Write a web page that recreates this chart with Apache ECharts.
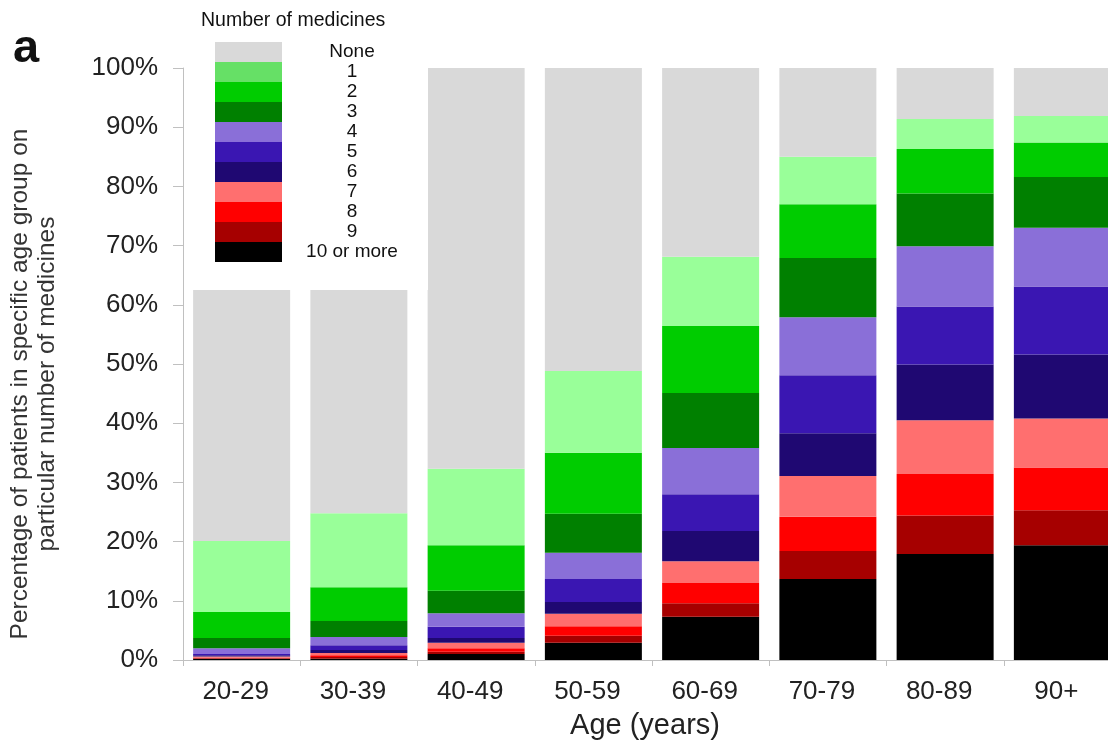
<!DOCTYPE html>
<html>
<head>
<meta charset="utf-8">
<script src="https://cdn.jsdelivr.net/npm/echarts@6/dist/echarts.min.js"></script>
<style>
  html, body { margin: 0; padding: 0; background: #fff; overflow: hidden; }
  #chart { width: 1121px; height: 742px; }
</style>
</head>
<body>
<div id="chart"></div>
<script>
// ---- data (percent of patients in each age group) ----
const categories = ['20-29', '30-39', '40-49', '50-59', '60-69', '70-79', '80-89', '90+'];
const legendNames = ['None', '1', '2', '3', '4', '5', '6', '7', '8', '9', '10 or more'];
const yTickLabels = ['0%', '10%', '20%', '30%', '40%', '50%', '60%', '70%', '80%', '90%', '100%'];

const noneVals    = [79.9, 75.2, 67.7, 51.2, 31.9, 15.0, 8.6, 8.1];
const oneVals     = [12.0, 12.5, 12.9, 13.8, 11.7, 8.0, 5.1, 4.5];
const twoVals     = [4.4, 5.7, 7.7, 10.3, 11.3, 9.1, 7.5, 5.8];
const threeVals   = [1.7, 2.7, 3.8, 6.6, 9.3, 10.0, 8.9, 8.6];
const fourVals    = [1.0, 1.4, 2.3, 4.4, 7.8, 9.8, 10.2, 9.9];
const fiveVals    = [0.2, 0.8, 1.9, 3.9, 6.2, 9.8, 9.8, 11.5];
const sixVals     = [0.2, 0.5, 0.8, 2.0, 5.1, 7.2, 9.4, 10.8];
const sevenVals   = [0.2, 0.4, 0.9, 2.1, 3.7, 6.9, 9.1, 8.3];
const eightVals   = [0.1, 0.3, 0.6, 1.6, 3.4, 5.8, 7.0, 7.2];
const nineVals    = [0.1, 0.3, 0.4, 1.2, 2.3, 4.7, 6.5, 5.9];
const tenPlusVals = [0.2, 0.2, 1.0, 2.9, 7.3, 13.7, 17.9, 19.4];

// ---- styles ----
const barColors = {
  'None': '#d9d9d9', '1': '#99ff99', '2': '#00cc00', '3': '#008000', '4': '#8a6fd8',
  '5': '#3a16b2', '6': '#1f0872', '7': '#ff6f6f', '8': '#ff0000', '9': '#a60000', '10 or more': '#000000'
};
const legendColors = Object.assign({}, barColors, { '1': '#66e066' });
const FONT = "'Liberation Sans', Arial, sans-serif";

// stacked bottom-up: 10 or more first, None last
const stackOrder = [
  ['10 or more', tenPlusVals], ['9', nineVals], ['8', eightVals], ['7', sevenVals],
  ['6', sixVals], ['5', fiveVals], ['4', fourVals], ['3', threeVals],
  ['2', twoVals], ['1', oneVals], ['None', noneVals]
];

const series = stackOrder.map(([name, vals]) => ({
  name: name,
  type: 'bar',
  stack: 'all',
  barWidth: 97,
  data: vals,
  itemStyle: { color: barColors[name] },
  emphasis: { disabled: true }
}));

const chart = echarts.init(document.getElementById('chart'), null, { renderer: 'canvas' });
chart.setOption({
  animation: false,
  backgroundColor: '#ffffff',
  textStyle: { fontFamily: FONT },
  title: {
    text: 'Number of medicines',
    left: 201, top: 11, padding: 0,
    textStyle: { fontFamily: FONT, fontSize: 19.5, fontWeight: 'normal', color: '#111' }
  },
  graphic: [{
    type: 'text', left: 13, top: 26,
    style: { text: 'a', font: "bold 47px 'Liberation Sans', Arial, sans-serif", fill: '#111' }
  }],
  legend: {
    orient: 'vertical',
    left: 190, top: 35,
    padding: [7, 11, 28, 25],
    backgroundColor: '#ffffff',
    itemWidth: 67, itemHeight: 20, itemGap: 0,
    icon: 'rect',
    selectedMode: false,
    data: legendNames.map(n => ({ name: n, itemStyle: { color: legendColors[n] } })),
    formatter: n => '{c|' + n + '}',
    textStyle: {
      fontFamily: FONT,
      rich: { c: { width: 130, align: 'center', fontSize: 19, lineHeight: 20, color: '#111', fontFamily: FONT } }
    }
  },
  grid: { left: 183, right: 0, top: 68, bottom: 82, containLabel: false, outerBoundsMode: 'none' },
  xAxis: {
    type: 'category',
    data: categories,
    name: 'Age (years)',
    nameLocation: 'middle',
    nameGap: 51,
    nameTextStyle: { fontFamily: FONT, fontSize: 29, color: '#222', padding: [0, 14, 0, 0] },
    axisLine: { lineStyle: { color: '#c0c0c0', width: 1 } },
    axisTick: { show: true, length: 6, lineStyle: { color: '#c0c0c0' } },
    axisLabel: { fontFamily: FONT, fontSize: 26, color: '#222', margin: 19, padding: [0, 12, 0, 0] }
  },
  yAxis: {
    type: 'value',
    min: 0, max: 100, interval: 10,
    name: 'Percentage of patients in specific age group on\nparticular number of medicines',
    nameLocation: 'middle',
    nameRotate: 90,
    nameGap: 122,
    nameTextStyle: { fontFamily: FONT, fontSize: 24.5, color: '#333', lineHeight: 27, padding: [0, 40, 0, 0] },
    axisLine: { show: true, lineStyle: { color: '#c0c0c0', width: 1 } },
    axisTick: { show: true, length: 10, lineStyle: { color: '#c0c0c0' } },
    splitLine: { show: false },
    axisLabel: {
      fontFamily: FONT, fontSize: 26, color: '#222', margin: 25,
      formatter: (v) => yTickLabels[Math.round(v / 10)]
    }
  },
  series: series
});
</script>
</body>
</html>
